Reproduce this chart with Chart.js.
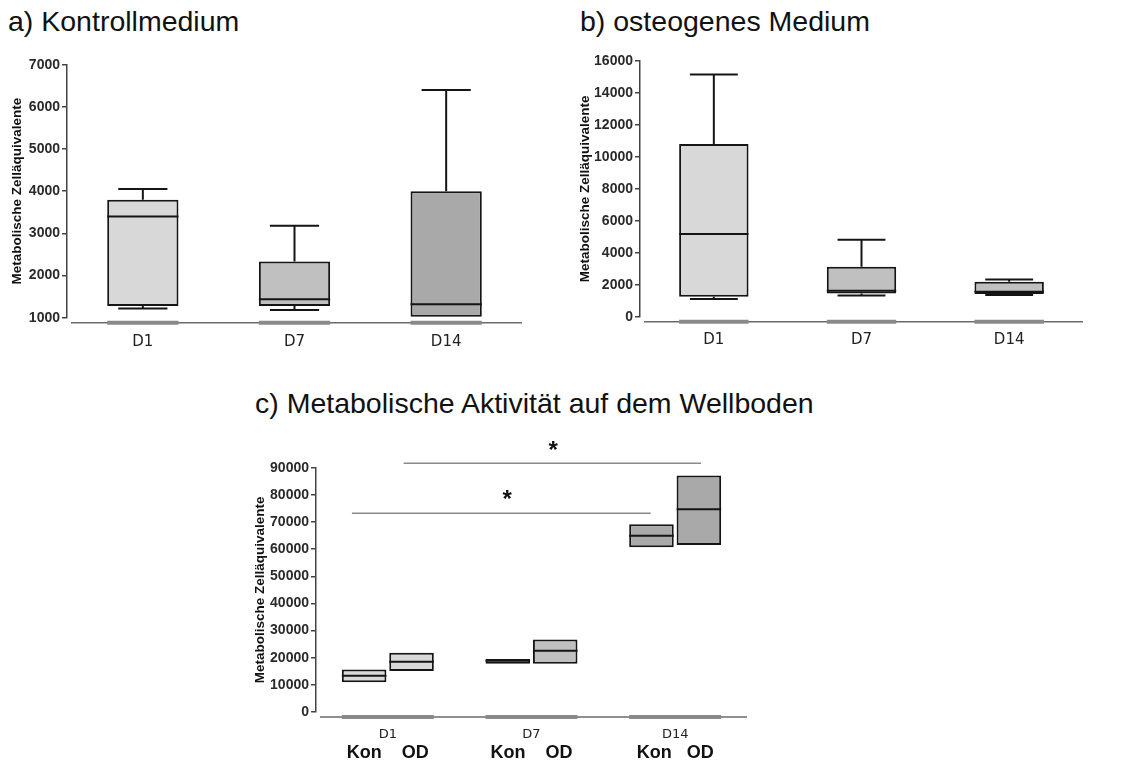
<!DOCTYPE html>
<html>
<head>
<meta charset="utf-8">
<script src="https://cdn.jsdelivr.net/npm/chart.js@4"></script>
<style>
  body { margin: 0; background: #fff; width: 1127px; height: 766px; position: relative; overflow: hidden; }
  .title { position: absolute; font-family: "Liberation Sans", Arial, sans-serif; font-size: 28.5px; color: #111; white-space: nowrap; }
  canvas { position: absolute; }
</style>
</head>
<body>
<div class="title" style="left:8px; top:5px;">a) Kontrollmedium</div>
<div class="title" style="left:580px; top:5px;">b) osteogenes Medium</div>
<div class="title" style="left:255px; top:387px;">c) Metabolische Aktivität auf dem Wellboden</div>
<canvas id="chartA" width="540" height="320" style="left:0px; top:40px;"></canvas>
<canvas id="chartB" width="540" height="320" style="left:560px; top:40px;"></canvas>
<canvas id="chartC" width="540" height="336" style="left:230px; top:430px;"></canvas>
<script>
const days = ['D1', 'D7', 'D14'];
const yTitle = 'Metabolische Zelläquivalente';

// a) Kontrollmedium
const kontrollMin = [1220, 1180, 1020];
const kontrollQ1 = [1280, 1280, 1020];
const kontrollMedian = [3400, 1440, 1320];
const kontrollQ3 = [3800, 2330, 4000];
const kontrollMax = [4050, 3180, 6400];

// b) osteogenes Medium
const osteoMin = [1100, 1330, 1360];
const osteoQ1 = [1250, 1450, 1420];
const osteoMedian = [5180, 1620, 1560];
const osteoQ3 = [10800, 3130, 2190];
const osteoMax = [15150, 4820, 2330];

// c) Wellboden, Kon / OD
const groupLabels = ['Kon    OD', 'Kon    OD', 'Kon   OD'];
const wellKonQ1 = [11000, 17800, 60700];
const wellKonMedian = [13400, 18900, 64900];
const wellKonQ3 = [15700, 19500, 69200];
const wellOdQ1 = [15100, 17800, 61500];
const wellOdMedian = [18500, 22600, 74700];
const wellOdQ3 = [21800, 26700, 87100];

// significance bars (x in category units)
const sigFrom = [-0.25, 0.11];
const sigTo = [1.83, 2.18];
const sigLevel = [73200, 91600];
const sigStarX = [0.83, 1.15];
const sigStarY = [79900, 97700];

const tickFont = { family: '"Liberation Sans", Arial, sans-serif', size: 14, weight: 'bold' };
const dayFont = { family: '"DejaVu Sans", Verdana, sans-serif', size: 15 };

const colLight = '#d8d8d8';
const colMid = '#c0c0c0';
const colDark = '#a9a9a9';

function ranges(lo, hi) {
  return lo.map((v, i) => [v, hi[i]]);
}

// median lines and whiskers on top of the floating bars
function boxPlugin(specs) {
  return {
    id: 'boxParts',
    afterDatasetsDraw(chart) {
      const ctx = chart.ctx;
      const y = chart.scales.y;
      ctx.save();
      ctx.strokeStyle = '#151515';
      ctx.lineWidth = 2;
      specs.forEach(s => {
        const meta = chart.getDatasetMeta(s.dataset);
        const data = chart.data.datasets[s.dataset].data;
        meta.data.forEach((bar, i) => {
          const half = bar.width / 2;
          const cap = half * 0.69;
          const ym = y.getPixelForValue(s.median[i]);
          ctx.beginPath();
          ctx.moveTo(bar.x - half, ym);
          ctx.lineTo(bar.x + half, ym);
          if (s.max) {
            const yq3 = y.getPixelForValue(data[i][1]);
            const yTop = y.getPixelForValue(s.max[i]);
            const yq1 = y.getPixelForValue(data[i][0]);
            const yBot = y.getPixelForValue(s.min[i]);
            ctx.moveTo(bar.x, yq3);
            ctx.lineTo(bar.x, yTop);
            ctx.moveTo(bar.x - cap, yTop);
            ctx.lineTo(bar.x + cap, yTop);
            if (yBot - yq1 > 0.5) {
              ctx.moveTo(bar.x, yq1);
              ctx.lineTo(bar.x, yBot);
              ctx.moveTo(bar.x - cap, yBot);
              ctx.lineTo(bar.x + cap, yBot);
            }
          }
          ctx.stroke();
        });
      });
      ctx.restore();
    }
  };
}

// offset x axis line with grey base segments under each group
const baseAxis = {
  id: 'baseAxis',
  afterDraw(chart) {
    const ctx = chart.ctx;
    const area = chart.chartArea;
    const yLine = area.bottom + 5;
    ctx.save();
    ctx.strokeStyle = '#6a6a6a';
    ctx.lineWidth = 1.5;
    ctx.beginPath();
    ctx.moveTo(area.left + 4, yLine);
    ctx.lineTo(area.right, yLine);
    ctx.stroke();
    const metas = chart.getSortedVisibleDatasetMetas().filter(m => m.type === 'bar');
    const first = metas[0], last = metas[metas.length - 1];
    ctx.strokeStyle = '#8a8a8a';
    ctx.lineWidth = 4;
    first.data.forEach((bar, i) => {
      const b2 = last.data[i];
      ctx.beginPath();
      ctx.moveTo(bar.x - bar.width / 2, yLine);
      ctx.lineTo(b2.x + b2.width / 2, yLine);
      ctx.stroke();
    });
    ctx.restore();
  }
};

// significance lines and asterisks in panel c
const sigPlugin = {
  id: 'significance',
  afterDatasetsDraw(chart) {
    const ctx = chart.ctx;
    const x = chart.scales.x;
    const y = chart.scales.y;
    ctx.save();
    ctx.strokeStyle = '#8a8a8a';
    ctx.lineWidth = 1.5;
    sigFrom.forEach((from, i) => {
      const yy = y.getPixelForValue(sigLevel[i]);
      ctx.beginPath();
      ctx.moveTo(x.getPixelForValue(from), yy);
      ctx.lineTo(x.getPixelForValue(sigTo[i]), yy);
      ctx.stroke();
    });
    ctx.fillStyle = '#111';
    ctx.font = 'bold 24px "Liberation Sans", Arial, sans-serif';
    ctx.textAlign = 'center';
    ctx.textBaseline = 'middle';
    sigStarX.forEach((sx, i) => {
      ctx.fillText('*', x.getPixelForValue(sx), y.getPixelForValue(sigStarY[i]) + 5);
    });
    ctx.restore();
  }
};

function yScale(min, max, step, width, titlePad) {
  return {
    min: min, max: max,
    afterFit(scale) { scale.width = width; },
    ticks: { stepSize: step, color: '#2a2a2a', font: tickFont, padding: 2, callback: (v) => String(v) },
    grid: { drawOnChartArea: false, drawTicks: true, tickLength: 5, color: '#444', lineWidth: 1.5 },
    border: { display: true, color: '#444', width: 1.5 },
    title: {
      display: true, text: yTitle, color: '#111',
      font: { family: '"Liberation Sans", Arial, sans-serif', size: 13.5, weight: 'bold' },
      padding: { top: titlePad, bottom: 0 }
    }
  };
}

function xScale(height, pad, font) {
  return {
    type: 'category',
    offset: true,
    afterFit(scale) { scale.height = height; },
    ticks: { color: '#222', font: font, padding: pad },
    grid: { display: false, drawTicks: false },
    border: { display: false }
  };
}

function boxChart(id, padding, yOpts, xHeight, xPad, q1, q3, median, min, max, colors) {
  new Chart(document.getElementById(id), {
    type: 'bar',
    data: {
      labels: days,
      datasets: [{
        data: ranges(q1, q3),
        backgroundColor: colors,
        borderColor: '#151515',
        borderWidth: 2,
        borderSkipped: false,
        categoryPercentage: 1,
        barPercentage: 0.47
      }]
    },
    options: {
      responsive: false,
      animation: false,
      layout: { padding: padding },
      plugins: { legend: { display: false }, tooltip: { enabled: false } },
      scales: { x: xScale(xHeight, xPad, dayFont), y: yOpts }
    },
    plugins: [boxPlugin([{ dataset: 0, median: median, min: min, max: max }]), baseAxis]
  });
}

boxChart('chartA', { left: 0, right: 18, top: 24.7, bottom: 0 },
  yScale(1000, 7000, 1000, 67, 9), 42.3, 15,
  kontrollQ1, kontrollQ3, kontrollMedian, kontrollMin, kontrollMax,
  [colLight, colMid, colDark]);

boxChart('chartB', { left: 0, right: 17, top: 21, bottom: 0 },
  yScale(0, 16000, 2000, 80, 17), 43.3, 14,
  osteoQ1, osteoQ3, osteoMedian, osteoMin, osteoMax,
  [colLight, colMid, colMid]);

const groupFont = { family: '"Liberation Sans", Arial, sans-serif', size: 18, weight: 'bold' };
const x2 = xScale(23.4, 0, groupFont);
x2.labels = groupLabels;
x2.position = 'bottom';
x2.weight = 1;
x2.ticks.color = '#111';

new Chart(document.getElementById('chartC'), {
  type: 'bar',
  data: {
    labels: days,
    datasets: [
      {
        label: 'Kon',
        data: ranges(wellKonQ1, wellKonQ3),
        backgroundColor: [colLight, colMid, colDark],
        borderColor: '#151515', borderWidth: 2, borderSkipped: false,
        categoryPercentage: 0.66, barPercentage: 0.94
      },
      {
        label: 'OD',
        data: ranges(wellOdQ1, wellOdQ3),
        backgroundColor: [colLight, colMid, colDark],
        borderColor: '#151515', borderWidth: 2, borderSkipped: false,
        categoryPercentage: 0.66, barPercentage: 0.94
      }
    ]
  },
  options: {
    responsive: false,
    animation: false,
    layout: { padding: { left: 0, right: 23, top: 37.7, bottom: 0 } },
    plugins: { legend: { display: false }, tooltip: { enabled: false } },
    scales: {
      x: Object.assign(xScale(30.6, 15, { family: '"DejaVu Sans", Verdana, sans-serif', size: 13 }), { weight: 0 }),
      x2: x2,
      y: yScale(0, 90000, 10000, 86, 22.6)
    }
  },
  plugins: [boxPlugin([{ dataset: 0, median: wellKonMedian }, { dataset: 1, median: wellOdMedian }]), baseAxis, sigPlugin]
});
</script>
</body>
</html>
